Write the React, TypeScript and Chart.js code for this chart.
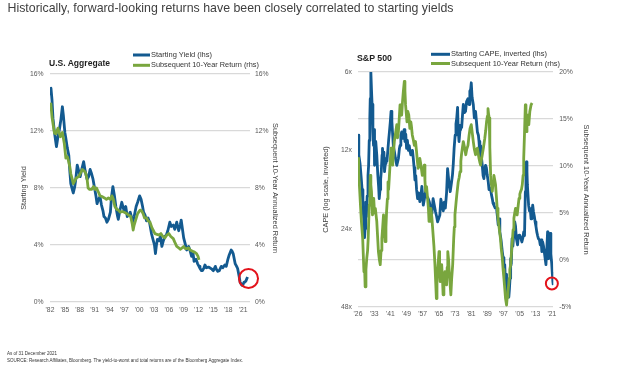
import React, { useEffect, useRef } from "react";
import { Chart, registerables } from "chart.js";

Chart.register(...registerables);

const BLUE = "#135a90";
const GREEN = "#79a63e";
const RED = "#e3131b";
const GRID = "#d9d9d9";
const TICK = "#595959";
const AXIS_TITLE = "#404040";
const FAMILY = "'Liberation Sans', Arial, Helvetica, sans-serif";

// ---------- U.S. Aggregate ----------
const aggTickYears = [1982, 1985, 1988, 1991, 1994, 1997, 2000, 2003, 2006, 2009, 2012, 2015, 2018, 2021];
const aggTickLabels = ["'82", "'85", "'88", "'91", "'94", "'97", "'00", "'03", "'06", "'09", "'12", "'15", "'18", "'21"];
const aggPctTicks = [0, 4, 8, 12, 16];

// [year, starting yield %]
const aggYield: [number, number][] = [
  [1982.0, 14.6], [1982.2, 15.0], [1982.4, 14.2], [1982.6, 12.9], [1982.9, 11.9], [1983.1, 11.4],
  [1983.3, 10.9], [1983.6, 11.6], [1983.9, 12.1], [1984.2, 12.8], [1984.5, 13.7], [1984.7, 13.1],
  [1985.0, 11.9], [1985.2, 11.5], [1985.5, 10.8], [1985.8, 10.3], [1986.0, 9.2], [1986.2, 8.3],
  [1986.5, 7.9], [1986.7, 7.65], [1987.0, 8.1], [1987.2, 8.6], [1987.5, 9.6], [1987.8, 9.2],
  [1988.1, 8.8], [1988.4, 9.3], [1988.8, 9.85], [1989.1, 9.2], [1989.5, 8.6], [1989.8, 8.8],
  [1990.1, 9.3], [1990.4, 9.0], [1990.7, 8.6], [1991.0, 8.0], [1991.3, 7.4], [1991.5, 6.9],
  [1991.8, 7.2], [1992.1, 7.4], [1992.4, 6.8], [1992.7, 6.4], [1992.9, 6.0], [1993.2, 5.9],
  [1993.5, 5.6], [1993.8, 5.8], [1994.2, 6.3], [1994.4, 7.3], [1994.7, 8.1], [1995.0, 7.5],
  [1995.3, 6.7], [1995.6, 6.1], [1995.8, 5.8], [1996.1, 6.4], [1996.5, 7.0], [1996.8, 6.6],
  [1997.0, 6.4], [1997.3, 6.7], [1997.6, 6.0], [1997.9, 6.1], [1998.2, 6.3], [1998.5, 5.9],
  [1998.7, 5.6], [1999.0, 6.0], [1999.4, 6.7], [1999.7, 7.0], [2000.1, 7.45], [2000.4, 7.2],
  [2000.7, 6.7], [2000.9, 6.3], [2001.2, 6.1], [2001.5, 5.7], [2001.8, 5.9], [2002.1, 5.6],
  [2002.5, 4.8], [2002.8, 4.4], [2003.1, 4.0], [2003.3, 3.4], [2003.5, 4.0], [2003.7, 4.4],
  [2004.0, 4.3], [2004.3, 4.6], [2004.6, 3.9], [2004.9, 4.3], [2005.2, 4.6], [2005.5, 4.7],
  [2005.8, 5.0], [2006.2, 5.6], [2006.5, 5.3], [2006.9, 5.4], [2007.2, 5.1], [2007.6, 5.6],
  [2008.0, 5.0], [2008.3, 5.4], [2008.5, 5.75], [2008.8, 5.0], [2009.0, 4.5], [2009.3, 4.1],
  [2009.6, 3.65], [2010.0, 3.9], [2010.3, 3.6], [2010.6, 3.2], [2010.9, 3.4], [2011.1, 2.85],
  [2011.5, 3.0], [2011.8, 2.7], [2012.1, 2.5], [2012.3, 2.35], [2012.6, 2.2], [2012.8, 2.2],
  [2013.1, 2.4], [2013.3, 2.6], [2013.6, 2.4], [2014.0, 2.45], [2014.3, 2.4], [2014.7, 2.3],
  [2015.0, 2.2], [2015.4, 2.5], [2015.6, 2.3], [2015.9, 2.15], [2016.2, 2.2], [2016.6, 2.5],
  [2016.9, 2.4], [2017.3, 2.6], [2017.6, 2.5], [2017.9, 2.95], [2018.2, 3.3], [2018.6, 3.65],
  [2018.8, 3.55], [2019.0, 3.4], [2019.4, 2.7], [2019.7, 2.5], [2019.9, 2.35], [2020.2, 1.8],
  [2020.4, 1.4], [2020.7, 1.2], [2020.9, 1.15], [2021.2, 1.4], [2021.4, 1.4], [2021.6, 1.5],
  [2021.9, 1.75],
];

// [year, subsequent 10-year return %]
const aggReturn: [number, number][] = [
  [1982.0, 13.9], [1982.2, 13.8], [1982.4, 13.0], [1982.7, 12.3], [1982.9, 11.85], [1983.2, 11.8],
  [1983.6, 12.2], [1983.9, 11.8], [1984.1, 11.6], [1984.5, 11.9], [1984.9, 11.1], [1985.2, 10.1],
  [1985.5, 10.2], [1985.7, 9.95], [1986.0, 9.5], [1986.2, 9.0], [1986.5, 8.6], [1986.7, 8.3],
  [1987.0, 8.5], [1987.3, 8.7], [1987.8, 8.8], [1988.1, 9.0], [1988.5, 9.3], [1988.9, 9.2],
  [1989.2, 9.05], [1989.5, 8.6], [1989.7, 8.0], [1990.0, 7.9], [1990.4, 7.9], [1990.8, 8.1],
  [1991.1, 7.9], [1991.4, 8.0], [1991.8, 7.7], [1992.1, 7.45], [1992.5, 7.4], [1993.0, 7.3],
  [1993.4, 7.2], [1993.8, 7.3], [1994.2, 7.2], [1994.5, 7.45], [1994.8, 7.2], [1995.1, 6.7],
  [1995.5, 6.5], [1995.8, 6.45], [1996.2, 6.3], [1996.6, 6.35], [1997.0, 6.3], [1997.5, 6.2],
  [1997.9, 6.1], [1998.3, 6.0], [1998.6, 5.5], [1998.8, 5.05], [1999.0, 5.4], [1999.3, 5.75],
  [1999.7, 6.2], [2000.2, 6.45], [2000.5, 6.4], [2000.8, 6.2], [2001.1, 5.9], [2001.5, 5.9],
  [2001.8, 5.7], [2002.2, 5.6], [2002.6, 5.2], [2002.9, 5.0], [2003.2, 4.8], [2003.6, 4.75],
  [2004.0, 4.7], [2004.4, 4.8], [2004.8, 4.6], [2005.2, 4.5], [2005.6, 4.7], [2006.0, 4.8],
  [2006.4, 4.6], [2006.9, 4.45], [2007.2, 4.2], [2007.6, 3.9], [2008.0, 3.8], [2008.3, 3.7],
  [2008.7, 3.8], [2009.0, 3.9], [2009.3, 3.75], [2009.6, 3.75], [2010.0, 3.8], [2010.3, 3.65],
  [2010.6, 3.6], [2010.9, 3.55], [2011.2, 3.5], [2011.6, 3.4], [2011.9, 3.2], [2012.1, 2.95],
];

const aggHighlight = { year: 2022.1, value: 1.65 };

// ---------- S&P 500 ----------
const spTickYears = [1926, 1933.92, 1941.84, 1949.76, 1957.68, 1965.6, 1973.52, 1981.44, 1989.36, 1997.28, 2005.2, 2013.12, 2021.04];
const spTickLabels = ["'26", "'33", "'41", "'49", "'57", "'65", "'73", "'81", "'89", "'97", "'05", "'13", "'21"];
const spCapeTicks = [6, 12, 24, 48];
const spReturnTicks = [-5, 0, 5, 10, 15, 20];

// [year, CAPE]
const spCape: [number, number][] = [
  [1926.0, 10.5], [1926.4, 12.5], [1927.0, 13.5], [1927.6, 15.4], [1928.0, 17.0], [1928.4, 19.5],
  [1928.8, 22.0], [1929.2, 26.0], [1929.5, 24.0], [1929.8, 19.0], [1930.1, 21.6], [1930.5, 18.0],
  [1930.9, 15.0], [1931.2, 13.7], [1931.5, 11.0], [1931.8, 9.0], [1932.0, 7.6], [1932.3, 6.0],
  [1932.6, 7.0], [1932.9, 8.0], [1933.3, 10.2], [1933.6, 11.5], [1933.9, 10.0], [1934.1, 13.7],
  [1934.4, 12.0], [1934.7, 11.1], [1935.2, 12.5], [1935.7, 14.9], [1936.1, 16.5], [1936.4, 18.4],
  [1936.8, 17.0], [1937.1, 15.5], [1937.4, 14.5], [1937.8, 12.5], [1938.0, 11.8], [1938.4, 13.0],
  [1938.7, 12.2], [1939.0, 14.5], [1939.4, 13.5], [1939.7, 12.9], [1940.2, 13.2], [1940.7, 11.8],
  [1941.0, 11.0], [1941.4, 10.2], [1941.8, 9.4], [1942.2, 8.5], [1942.6, 9.3], [1942.9, 10.2],
  [1943.3, 11.5], [1943.8, 12.1], [1944.3, 12.8], [1945.0, 13.7], [1945.8, 12.9], [1946.3, 11.8],
  [1946.6, 11.5], [1947.0, 10.5], [1947.4, 10.2], [1947.8, 10.8], [1948.2, 10.5], [1948.6, 10.0],
  [1949.0, 11.1], [1949.4, 10.4], [1949.8, 11.8], [1950.2, 11.0], [1950.7, 12.0], [1951.1, 11.5],
  [1951.5, 12.1], [1951.9, 12.5], [1952.3, 12.5], [1952.7, 12.0], [1953.1, 12.9], [1953.5, 14.0],
  [1953.9, 15.6], [1954.3, 15.0], [1954.7, 17.0], [1955.2, 18.4], [1955.7, 17.5], [1956.3, 18.9],
  [1956.8, 18.0], [1957.3, 16.5], [1958.0, 19.5], [1958.5, 18.5], [1959.1, 17.3], [1959.6, 18.0],
  [1960.4, 18.4], [1961.0, 19.0], [1961.7, 20.7], [1962.2, 21.0], [1962.8, 18.4], [1963.4, 19.5],
  [1964.0, 20.7], [1964.5, 21.5], [1965.0, 22.6], [1965.5, 22.0], [1966.1, 21.3], [1966.6, 18.5],
  [1967.2, 19.5], [1967.8, 20.5], [1968.3, 19.0], [1968.8, 20.0], [1969.4, 17.5], [1969.9, 14.1],
  [1970.4, 15.5], [1970.8, 16.5], [1971.2, 17.3], [1971.8, 16.0], [1972.3, 14.9], [1972.7, 13.5],
  [1973.1, 11.8], [1973.6, 10.5], [1974.0, 9.5], [1974.4, 9.0], [1974.8, 8.2], [1975.1, 10.0],
  [1975.5, 11.1], [1976.0, 10.0], [1976.3, 9.6], [1976.8, 9.8], [1977.2, 8.8], [1977.6, 8.0],
  [1978.1, 8.6], [1978.7, 8.5], [1979.2, 7.8], [1979.9, 7.6], [1980.4, 8.0], [1980.8, 7.1],
  [1981.2, 7.0], [1981.5, 6.6], [1981.9, 7.5], [1982.5, 8.0], [1983.0, 9.0], [1983.6, 8.5],
  [1984.0, 9.2], [1984.5, 10.2], [1985.0, 10.5], [1985.3, 11.1], [1985.7, 12.5], [1986.1, 11.5],
  [1986.5, 12.8], [1986.9, 13.7], [1987.3, 15.0], [1987.7, 15.4], [1988.1, 14.2], [1988.5, 13.7],
  [1988.9, 14.0], [1989.3, 14.9], [1989.8, 15.8], [1990.2, 17.0], [1990.6, 16.7], [1991.0, 17.0],
  [1991.4, 17.8], [1991.8, 18.4], [1992.2, 19.2], [1992.6, 19.5], [1993.2, 20.0], [1993.9, 20.1],
  [1994.3, 21.5], [1994.7, 23.2], [1995.1, 22.0], [1995.5, 24.7], [1996.1, 26.5], [1996.7, 29.4],
  [1997.1, 31.0], [1997.5, 35.2], [1997.9, 33.0], [1998.3, 39.5], [1998.6, 36.0], [1998.8, 43.2],
  [1999.2, 41.0], [1999.5, 39.5], [1999.9, 44.0], [2000.2, 41.0], [2000.5, 37.3], [2000.8, 31.3],
  [2001.1, 33.0], [2001.5, 26.2], [2001.9, 28.0], [2002.4, 24.7], [2002.8, 22.6], [2003.2, 23.5],
  [2003.6, 26.2], [2004.2, 27.7], [2004.6, 25.5], [2005.2, 25.4], [2005.7, 26.0], [2006.3, 27.0],
  [2006.8, 26.0], [2007.2, 24.7], [2007.6, 25.5], [2008.0, 17.3], [2008.3, 15.0], [2008.5, 13.3],
  [2008.8, 14.5], [2009.0, 16.3], [2009.6, 19.5], [2010.0, 20.5], [2010.4, 20.1], [2010.8, 22.0],
  [2011.2, 21.3], [2011.6, 19.5], [2012.0, 20.7], [2012.4, 21.5], [2012.8, 22.6], [2013.2, 23.5],
  [2013.6, 24.7], [2014.0, 25.5], [2014.4, 26.2], [2014.9, 26.5], [2015.3, 27.7], [2015.7, 26.5],
  [2016.1, 29.4], [2016.5, 27.0], [2016.9, 28.0], [2017.3, 29.5], [2017.7, 31.3], [2018.1, 33.0],
  [2018.5, 29.0], [2018.9, 24.7], [2019.1, 29.0], [2019.4, 31.3], [2019.7, 29.4], [2020.0, 31.0],
  [2020.2, 25.0], [2020.5, 30.0], [2020.9, 32.5], [2021.2, 35.5], [2021.5, 38.5], [2021.7, 39.5],
];

// [year, subsequent 10-year annualized return %]
const spReturn: [number, number][] = [
  [1926.0, 10.8], [1926.3, 9.4], [1926.8, 7.5], [1927.2, 5.85], [1927.7, 4.0], [1928.3, 2.3],
  [1928.9, -1.25], [1929.2, -0.5], [1929.5, -2.85], [1929.9, -1.0], [1930.3, 0.2], [1930.7, 1.0],
  [1931.0, 2.3], [1931.5, 5.85], [1931.8, 7.0], [1932.0, 9.0], [1932.3, 8.0], [1932.6, 7.3],
  [1933.1, 4.8], [1933.4, 5.5], [1933.7, 6.55], [1934.1, 5.0], [1934.5, 5.5], [1935.2, 4.1],
  [1935.6, 2.5], [1936.0, 0.9], [1936.5, 0.0], [1936.9, -0.5], [1937.3, 1.0], [1937.7, 2.3],
  [1938.1, 3.5], [1938.5, 4.8], [1938.9, 3.0], [1939.3, 1.95], [1939.7, 3.5], [1940.0, 5.15],
  [1940.4, 6.5], [1940.7, 8.3], [1941.0, 7.5], [1941.4, 9.0], [1941.8, 10.5], [1942.2, 11.9],
  [1942.6, 11.0], [1943.0, 10.1], [1943.4, 11.5], [1943.8, 12.6], [1944.4, 13.5], [1945.0, 14.4],
  [1945.4, 13.0], [1945.8, 13.65], [1946.2, 15.0], [1946.6, 16.5], [1947.0, 15.8], [1947.4, 15.4],
  [1947.8, 16.8], [1948.2, 17.9], [1948.7, 19.0], [1949.0, 18.0], [1949.3, 16.5], [1949.7, 15.5],
  [1950.0, 14.7], [1950.4, 15.8], [1950.9, 15.4], [1951.4, 14.0], [1951.9, 14.7], [1952.2, 14.2],
  [1952.6, 13.3], [1953.1, 12.8], [1953.6, 12.2], [1954.2, 12.6], [1954.7, 11.5], [1955.1, 10.5],
  [1955.5, 9.75], [1955.9, 10.4], [1956.3, 10.8], [1956.9, 10.0], [1957.5, 9.0], [1958.0, 9.5],
  [1958.5, 10.1], [1958.8, 8.5], [1959.1, 7.3], [1959.6, 7.8], [1960.1, 6.55], [1960.5, 5.5],
  [1960.8, 4.1], [1961.2, 4.8], [1961.7, 5.5], [1962.2, 4.5], [1962.7, 3.0], [1963.2, 1.5],
  [1963.7, -0.5], [1964.1, -2.5], [1964.4, -4.1], [1964.7, -2.5], [1965.0, -1.25], [1965.4, 0.0],
  [1965.7, 0.9], [1966.0, -0.5], [1966.3, -2.3], [1966.7, -1.5], [1967.0, -0.5], [1967.4, -2.0],
  [1967.7, -3.7], [1968.1, -2.5], [1968.6, -1.25], [1969.0, -1.8], [1969.4, -2.65], [1969.7, -0.8],
  [1970.0, 0.9], [1970.4, 0.0], [1970.7, -1.25], [1971.1, -2.5], [1971.5, -3.7], [1971.9, -2.0],
  [1972.4, -0.5], [1972.9, 2.3], [1973.2, 3.5], [1973.5, 4.8], [1974.0, 6.0], [1974.4, 6.9],
  [1975.1, 8.3], [1975.6, 8.8], [1976.0, 9.4], [1976.4, 10.5], [1976.7, 11.2], [1977.2, 12.0],
  [1977.6, 12.6], [1978.2, 12.0], [1978.8, 11.2], [1979.3, 11.8], [1979.9, 12.2], [1980.4, 13.2],
  [1980.9, 14.0], [1981.5, 14.4], [1982.0, 13.5], [1982.5, 12.6], [1983.0, 11.8], [1983.6, 11.2],
  [1984.0, 11.6], [1984.5, 11.9], [1985.0, 11.2], [1985.3, 10.8], [1985.7, 10.4], [1986.1, 10.1],
  [1986.5, 10.7], [1986.9, 11.2], [1987.5, 12.0], [1988.1, 12.9], [1988.6, 13.8], [1989.0, 14.7],
  [1989.4, 15.3], [1989.7, 16.1], [1990.0, 15.5], [1990.3, 15.1], [1990.6, 12.0], [1991.0, 9.0],
  [1991.4, 8.0], [1991.8, 7.3], [1992.2, 8.2], [1992.6, 9.0], [1993.0, 8.5], [1993.4, 8.0],
  [1993.8, 6.8], [1994.2, 5.5], [1994.6, 4.5], [1995.0, 3.7], [1995.4, 3.0], [1995.8, 2.3],
  [1996.2, 1.2], [1996.7, 0.2], [1997.1, -1.0], [1997.5, -1.95], [1997.9, -3.0], [1998.3, -4.1],
  [1998.8, -4.8], [1999.1, -4.0], [1999.5, -3.4], [2000.1, -1.95], [2000.4, -1.0], [2000.8, -0.5],
  [2001.2, 0.8], [2001.6, 1.95], [2002.0, 3.2], [2002.4, 4.45], [2002.8, 5.0], [2003.2, 5.5],
  [2003.6, 5.0], [2004.0, 4.8], [2004.5, 5.8], [2004.9, 6.55], [2005.3, 7.0], [2005.7, 7.3],
  [2006.1, 7.5], [2006.5, 8.0], [2006.9, 9.0], [2007.2, 10.8], [2007.6, 13.5], [2008.0, 16.5],
  [2008.3, 15.0], [2008.5, 13.65], [2008.8, 14.5], [2009.2, 15.4], [2009.7, 14.4], [2010.2, 15.8],
  [2010.8, 16.5], [2011.3, 16.7],
];

const spHighlight = { year: 2021.0, cape: 39 };

const toXY = (s: [number, number][]) => s.map(([x, y]) => ({ x, y }));

const tickFont = { family: FAMILY, size: 6.8 };
const axisTitleFont = { family: FAMILY, size: 7.4 };
const LINE_W = 2.8;

function aggConfig(): any {
  return {
    type: "line",
    data: {
      datasets: [
        {
          label: "highlight",
          data: [{ x: aggHighlight.year, y: aggHighlight.value }],
          yAxisID: "y",
          showLine: false,
          pointRadius: 9.5,
          pointBorderWidth: 2,
          pointBorderColor: RED,
          pointBackgroundColor: "rgba(0,0,0,0)",
          clip: false,
          order: 0,
        },
        {
          label: "Subsequent 10-Year Return (rhs)",
          data: toXY(aggReturn),
          yAxisID: "y2",
          borderColor: GREEN,
          borderWidth: LINE_W,
          pointRadius: 0,
          order: 1,
        },
        {
          label: "Starting Yield (lhs)",
          data: toXY(aggYield),
          yAxisID: "y",
          borderColor: BLUE,
          borderWidth: LINE_W,
          pointRadius: 0,
          order: 2,
        },
      ],
    },
    options: {
      animation: false,
      responsive: false,
      maintainAspectRatio: false,
      layout: { padding: { left: 0, top: 74, right: 0, bottom: 8 } },
      plugins: { legend: { display: false }, tooltip: { enabled: false } },
      elements: { line: { tension: 0, borderJoinStyle: "round" } },
      scales: {
        x: {
          type: "linear",
          min: 1982,
          max: 2022.4,
          grid: { display: false, drawTicks: false },
          border: { display: false },
          afterBuildTicks: (s: any) => {
            s.ticks = aggTickYears.map((v) => ({ value: v }));
          },
          ticks: {
            autoSkip: false,
            maxRotation: 0,
            minRotation: 0,
            padding: 4.5,
            font: tickFont,
            color: TICK,
            callback: (_v: any, i: number) => aggTickLabels[i],
          },
          afterFit: (s: any) => {
            s.height = 20;
          },
        },
        y: {
          position: "left",
          min: 0,
          max: 16,
          afterBuildTicks: (s: any) => {
            s.ticks = aggPctTicks.map((v) => ({ value: v }));
          },
          ticks: { padding: 6.5, font: tickFont, color: TICK, callback: (v: any) => v + "%" },
          grid: { color: GRID, lineWidth: 1.3, drawTicks: false },
          border: { display: false },
          title: {
            display: true,
            text: "Starting Yield",
            font: axisTitleFont,
            color: AXIS_TITLE,
            padding: { top: 19.5, bottom: 0 },
          },
          afterFit: (s: any) => {
            s.width = 50;
          },
        },
        y2: {
          position: "right",
          min: 0,
          max: 16,
          afterBuildTicks: (s: any) => {
            s.ticks = aggPctTicks.map((v) => ({ value: v }));
          },
          ticks: { padding: 5, font: tickFont, color: TICK, callback: (v: any) => v + "%" },
          grid: { display: false, drawTicks: false },
          border: { display: false },
          title: {
            display: true,
            text: "Subsequent 10-Year Annualized Return",
            font: axisTitleFont,
            color: AXIS_TITLE,
            padding: { top: 32.5, bottom: 0 },
          },
          afterFit: (s: any) => {
            s.width = 62;
          },
        },
      },
    },
  };
}

function spConfig(): any {
  return {
    type: "line",
    data: {
      datasets: [
        {
          label: "highlight",
          data: [{ x: spHighlight.year, y: spHighlight.cape }],
          yAxisID: "yL",
          showLine: false,
          pointRadius: 6,
          pointBorderWidth: 2,
          pointBorderColor: RED,
          pointBackgroundColor: "rgba(0,0,0,0)",
          clip: false,
          order: 0,
        },
        {
          label: "Subsequent 10-Year Return (rhs)",
          data: toXY(spReturn),
          yAxisID: "yR",
          borderColor: GREEN,
          borderWidth: LINE_W,
          pointRadius: 0,
          order: 1,
        },
        {
          label: "Starting CAPE, inverted (lhs)",
          data: toXY(spCape),
          yAxisID: "yL",
          borderColor: BLUE,
          borderWidth: LINE_W,
          pointRadius: 0,
          order: 2,
        },
      ],
    },
    options: {
      animation: false,
      responsive: false,
      maintainAspectRatio: false,
      layout: { padding: { left: 0, top: 72, right: 0, bottom: 3 } },
      plugins: { legend: { display: false }, tooltip: { enabled: false } },
      elements: { line: { tension: 0, borderJoinStyle: "round" } },
      scales: {
        x: {
          type: "linear",
          min: 1926,
          max: 2021.7,
          grid: { display: false, drawTicks: false },
          border: { display: false },
          afterBuildTicks: (s: any) => {
            s.ticks = spTickYears.map((v) => ({ value: v }));
          },
          ticks: {
            autoSkip: false,
            maxRotation: 0,
            minRotation: 0,
            padding: 3,
            font: tickFont,
            color: TICK,
            callback: (_v: any, i: number) => spTickLabels[i],
          },
          afterFit: (s: any) => {
            s.height = 20;
          },
        },
        yL: {
          type: "logarithmic",
          position: "left",
          reverse: true,
          min: 6,
          max: 48,
          afterBuildTicks: (s: any) => {
            s.ticks = spCapeTicks.map((v) => ({ value: v }));
          },
          ticks: { padding: 6, font: tickFont, color: TICK, callback: (v: any) => v + "x" },
          grid: { display: false, drawTicks: false },
          border: { display: false },
          title: {
            display: true,
            text: "CAPE (log scale, inverted)",
            font: axisTitleFont,
            color: AXIS_TITLE,
            padding: { top: 9.5, bottom: 0 },
          },
          afterFit: (s: any) => {
            s.width = 46;
          },
        },
        yR: {
          position: "right",
          min: -5,
          max: 20,
          afterBuildTicks: (s: any) => {
            s.ticks = spReturnTicks.map((v) => ({ value: v }));
          },
          ticks: { padding: 6, font: tickFont, color: TICK, callback: (v: any) => v + "%" },
          grid: { color: GRID, lineWidth: 1.3, drawTicks: false },
          border: { display: false },
          title: {
            display: true,
            text: "Subsequent 10-Year Annualized Return",
            font: axisTitleFont,
            color: AXIS_TITLE,
            padding: { top: 33.5, bottom: 0 },
          },
          afterFit: (s: any) => {
            s.width = 70.7;
          },
        },
      },
    },
  };
}

function ChartCanvas({ left, make }: { left: number; make: () => any }) {
  const ref = useRef<HTMLCanvasElement | null>(null);
  useEffect(() => {
    const chart = new Chart(ref.current as HTMLCanvasElement, make());
    return () => chart.destroy();
  }, []);
  return (
    <canvas
      ref={ref}
      width={312}
      height={330}
      style={{ position: "absolute", left, top: 0, width: 312, height: 330 }}
    />
  );
}

export default function App() {
  return (
    <div
      style={{
        position: "fixed",
        left: 0,
        top: 0,
        width: 624,
        height: 374,
        background: "#ffffff",
        overflow: "hidden",
      }}
    >
      <ChartCanvas left={0} make={aggConfig} />
      <ChartCanvas left={312} make={spConfig} />
      <svg
        width={624}
        height={374}
        style={{ position: "absolute", left: 0, top: 0, pointerEvents: "none" }}
        fontFamily={FAMILY}
      >
        <text x={7.5} y={12} fontSize={13.5} fill="#3f3f3f" textLength={446} lengthAdjust="spacingAndGlyphs">
          Historically, forward-looking returns have been closely correlated to starting yields
        </text>

        {/* U.S. Aggregate panel */}
        <text x={49} y={66} fontSize={8.5} fontWeight="bold" fill="#1f1f1f" textLength={61} lengthAdjust="spacingAndGlyphs">
          U.S. Aggregate
        </text>
        <line x1={133} y1={55} x2={150} y2={55} stroke={BLUE} strokeWidth={3} />
        <text x={151} y={57} fontSize={7.4} fill="#333333" textLength={61} lengthAdjust="spacingAndGlyphs">
          Starting Yield (lhs)
        </text>
        <line x1={133} y1={65.3} x2={150} y2={65.3} stroke={GREEN} strokeWidth={3} />
        <text x={151} y={67.3} fontSize={7.4} fill="#333333" textLength={108} lengthAdjust="spacingAndGlyphs">
          Subsequent 10-Year Return (rhs)
        </text>

        {/* S&P 500 panel */}
        <text x={357} y={60.5} fontSize={8.5} fontWeight="bold" fill="#1f1f1f" textLength={35} lengthAdjust="spacingAndGlyphs">
          S&amp;P 500
        </text>
        <line x1={431} y1={54.3} x2={450} y2={54.3} stroke={BLUE} strokeWidth={3} />
        <text x={451} y={56.3} fontSize={7.4} fill="#333333" textLength={96} lengthAdjust="spacingAndGlyphs">
          Starting CAPE, inverted (lhs)
        </text>
        <line x1={431} y1={63.5} x2={450} y2={63.5} stroke={GREEN} strokeWidth={3} />
        <text x={451} y={65.5} fontSize={7.4} fill="#333333" textLength={109} lengthAdjust="spacingAndGlyphs">
          Subsequent 10-Year Return (rhs)
        </text>

        {/* footer */}
        <text x={7} y={355.3} fontSize={6.2} fill="#333333" textLength={50} lengthAdjust="spacingAndGlyphs">
          As of 31 December 2021
        </text>
        <text x={7} y={362} fontSize={6.2} fill="#333333" textLength={236} lengthAdjust="spacingAndGlyphs">
          SOURCE: Research Affiliates, Bloomberg. The yield-to-worst and total returns are of the Bloomberg Aggregate Index.
        </text>
      </svg>
    </div>
  );
}
